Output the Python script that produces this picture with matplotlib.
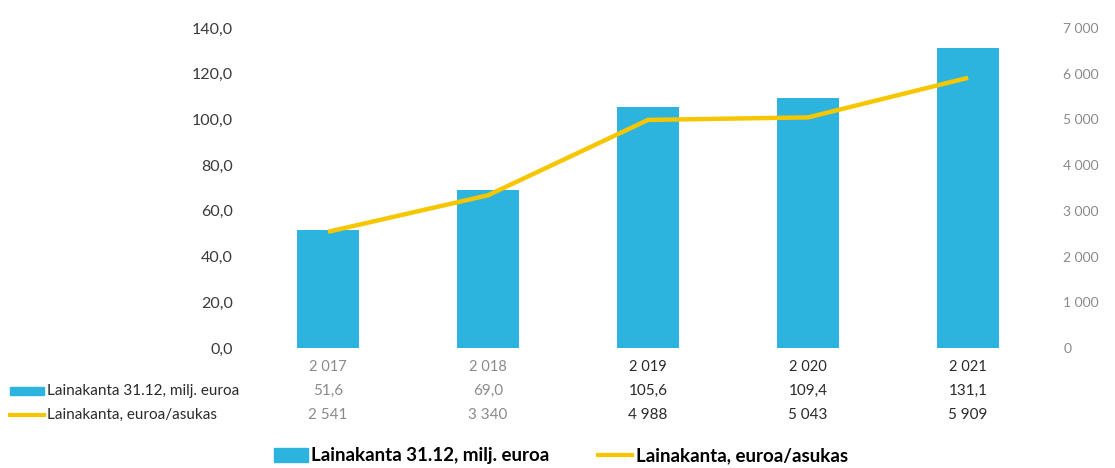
import matplotlib
matplotlib.use("Agg")
import matplotlib.pyplot as plt
from matplotlib.patches import Rectangle
from matplotlib.lines import Line2D
import matplotlib.transforms as mtransforms

plt.rcParams['font.family'] = ['Lato', 'DejaVu Sans']

years = [2017, 2018, 2019, 2020, 2021]
loans_meur = [51.6, 69.0, 105.6, 109.4, 131.1]
loans_per_capita = [2541, 3340, 4988, 5043, 5909]
bar_label = "Lainakanta 31.12, milj. euroa"
line_label = "Lainakanta, euroa/asukas"

left_ticks = [0, 20, 40, 60, 80, 100, 120, 140]
right_ticks = [0, 1000, 2000, 3000, 4000, 5000, 6000, 7000]

BLUE = "#2cb3de"
YELLOW = "#f6c700"


def fi_thousands(v):
    return f"{int(v):,}".replace(",", " ")


def fi_dec(v):
    return f"{v:.1f}".replace(".", ",")


fig = plt.figure(figsize=(11.15, 4.68), dpi=100)
ax = fig.add_axes([0.2224, 0.2564, 0.7176, 0.684])
ax2 = ax.twinx()

x = list(range(len(years)))
ax.bar(x, loans_meur, width=0.39, color=BLUE, zorder=2)
ax2.plot(x, loans_per_capita, color=YELLOW, lw=3.2, solid_capstyle="butt", zorder=3)
ax.set_zorder(1)
ax2.set_zorder(2)

ax.set_xlim(-0.5, len(years) - 0.5)
ax.set_ylim(0, 140)
ax2.set_ylim(0, 7000)

ax.set_yticks(left_ticks)
ax.set_yticklabels([fi_dec(v) for v in left_ticks], fontsize=11.5, color="#3a3a3a")
ax2.set_yticks(right_ticks)
ax2.set_yticklabels([fi_thousands(v) for v in right_ticks], fontsize=10, color="#8a8a8a")
ax.tick_params(axis="y", length=0, pad=11)
ax2.tick_params(axis="y", length=0, pad=11)
ax.set_xticks([])
for a in (ax, ax2):
    for s in a.spines.values():
        s.set_visible(False)

# data table under the chart
trans = mtransforms.blended_transform_factory(ax.transData, fig.transFigure)
row_y = [1 - 367 / 468, 1 - 391 / 468, 1 - 415 / 468]
for i in x:
    col = "#8a8a8a" if i < 2 else "#2a2a2a"
    ax.text(i, row_y[0], fi_thousands(years[i]), transform=trans, ha="center", va="center",
            fontsize=10.5, color=col)
    ax.text(i, row_y[1], fi_dec(loans_meur[i]), transform=trans, ha="center", va="center",
            fontsize=11, color=col)
    ax.text(i, row_y[2], fi_thousands(loans_per_capita[i]), transform=trans, ha="center", va="center",
            fontsize=11, color=col)

fig.patches.append(Rectangle((10 / 1115, row_y[1] - 0.009), 34 / 1115, 0.018,
                             transform=fig.transFigure, color=BLUE))
fig.lines.append(Line2D([10 / 1115, 44 / 1115], [row_y[2], row_y[2]],
                        transform=fig.transFigure, color=YELLOW, lw=3))
fig.text(47 / 1115, row_y[1], bar_label, ha="left", va="center", fontsize=11, color="#2a2a2a")
fig.text(47 / 1115, row_y[2], line_label, ha="left", va="center", fontsize=11, color="#2a2a2a")

# bottom legend
handles = [Rectangle((0, 0), 1, 1, color=BLUE),
           Line2D([0], [0], color=YELLOW, lw=3)]
fig.legend(handles, [bar_label, line_label], loc="center", bbox_to_anchor=(0.503, 1 - 456 / 468),
           ncol=2, frameon=False, prop={"weight": "bold", "size": 13.5},
           handlelength=1.8, handletextpad=0.2, columnspacing=2.6)

fig.savefig("out.png", dpi=100)
